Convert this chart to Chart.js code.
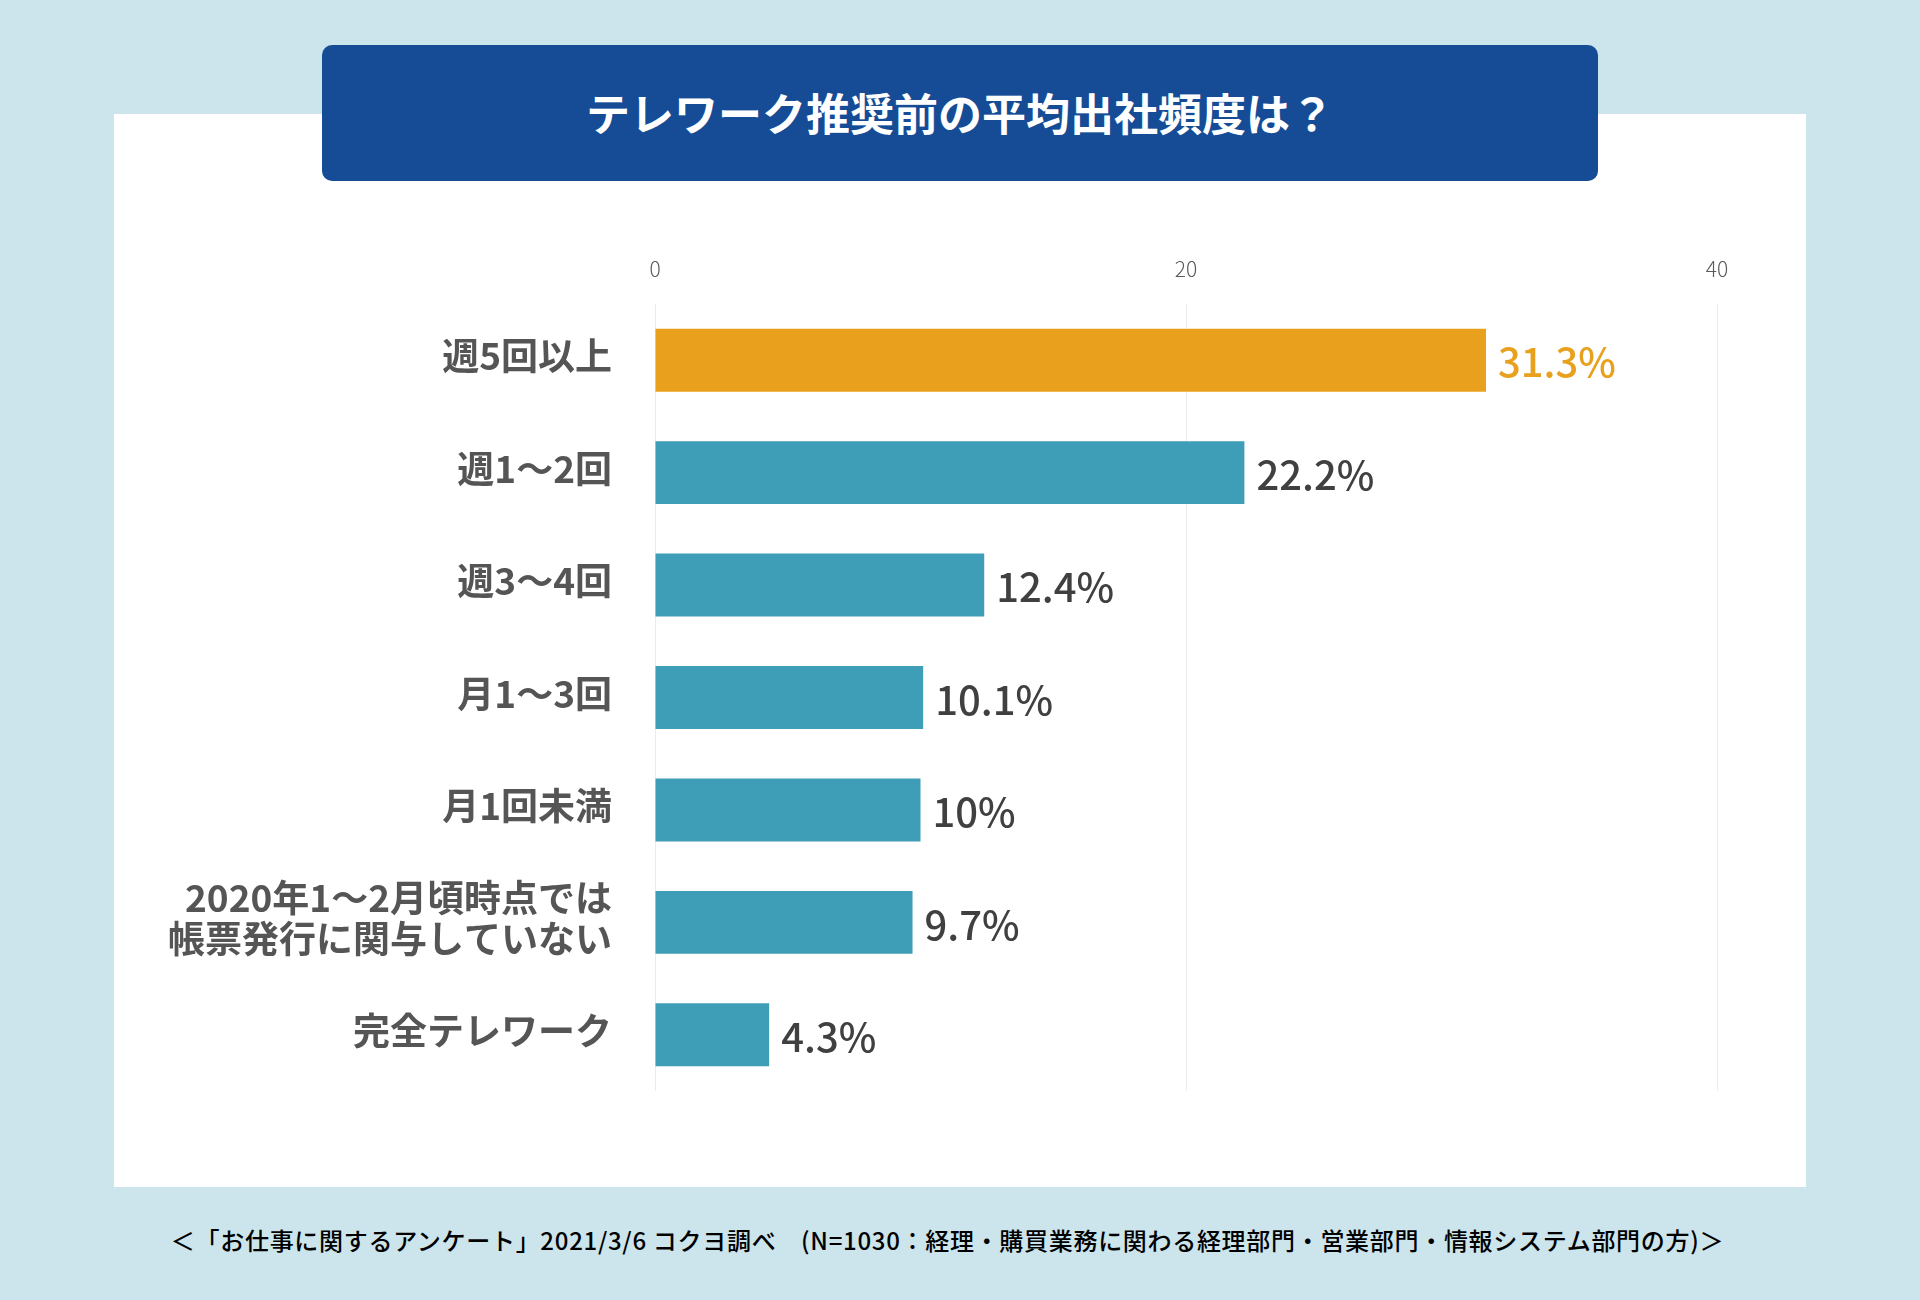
<!DOCTYPE html>
<html lang="ja">
  <head>
    <meta charset="UTF-8" />
    <title>テレワーク推奨前の平均出社頻度は？</title>
    <script src="https://cdn.jsdelivr.net/npm/chart.js"></script>
    <style>
      body {
        margin: 0;
        width: 1920px;
        height: 1300px;
        background: #cce4eb;
        position: relative;
        overflow: hidden;
        font-family: "Noto Sans CJK JP", sans-serif;
      }
      .panel {
        position: absolute;
        left: 114px;
        top: 114px;
        width: 1692px;
        height: 1073px;
        background: #ffffff;
      }
      .title {
        position: absolute;
        left: 322px;
        top: 45px;
        width: 1276px;
        height: 136px;
        background: #164c96;
        border-radius: 10px;
        color: #ffffff;
        font-weight: 700;
        font-size: 44px;
        line-height: 134px;
        text-align: center;
        z-index: 2;
      }
      .footer {
        position: absolute;
        left: 155px;
        top: 1222px;
        width: 1585px;
        font-size: 24px;
        font-weight: 500;
        letter-spacing: 0.7px;
        color: #000;
        white-space: nowrap;
        text-align: center;
      }
    </style>
  </head>
  <body>
    <div class="panel">
      <canvas id="freqChart"></canvas>
    </div>
    <div class="title">テレワーク推奨前の平均出社頻度は？</div>
    <div class="footer">＜「お仕事に関するアンケート」2021/3/6 コクヨ調べ　(N=1030：経理・購買業務に関わる経理部門・営業部門・情報システム部門の方)＞</div>

    <script>
      // データ
      const categories = [
        "週5回以上",
        "週1～2回",
        "週3～4回",
        "月1～3回",
        "月1回未満",
        ["2020年1～2月頃時点では", "帳票発行に関与していない"],
        "完全テレワーク",
      ];
      const percentages = [31.3, 22.2, 12.4, 10.1, 10, 9.7, 4.3];
      const xTicks = [0, 20, 40];

      const barColors = percentages.map((v, i) => (i === 0 ? "#e8a01d" : "#3e9db7"));
      const labelColors = percentages.map((v, i) => (i === 0 ? "#e8a01d" : "#404040"));

      // バーの右に数値を描く
      const valueLabels = {
        id: "valueLabels",
        afterDatasetsDraw(chart) {
          const ctx = chart.ctx;
          const meta = chart.getDatasetMeta(0);
          ctx.save();
          ctx.font = '500 40px "Noto Sans CJK JP", sans-serif';
          ctx.textAlign = "left";
          ctx.textBaseline = "middle";
          meta.data.forEach((bar, i) => {
            ctx.fillStyle = labelColors[i];
            ctx.fillText(percentages[i] + "%", bar.x + 12, bar.y + 2);
          });
          ctx.restore();
        },
      };

      const box = document.querySelector(".panel");
      const canvas = document.getElementById("freqChart");
      canvas.width = box.clientWidth;
      canvas.height = box.clientHeight;

      new Chart(canvas, {
        type: "bar",
        data: {
          labels: categories,
          datasets: [
            {
              data: percentages,
              backgroundColor: barColors,
              barPercentage: 0.56,
              categoryPercentage: 1,
            },
          ],
        },
        options: {
          indexAxis: "y",
          responsive: false,
          animation: false,
          layout: {
            padding: { left: 0, right: 89, top: 0, bottom: 96 },
          },
          plugins: {
            legend: { display: false },
            tooltip: { enabled: false },
          },
          scales: {
            x: {
              position: "top",
              min: xTicks[0],
              max: xTicks[xTicks.length - 1],
              afterBuildTicks(scale) {
                scale.ticks = xTicks.map((v) => ({ value: v }));
              },
              afterFit(scale) {
                scale.height = 190;
              },
              grid: {
                color: "#ebebeb",
                lineWidth: 1,
                drawTicks: false,
              },
              border: { display: false },
              ticks: {
                padding: 22,
                color: "#5a5a5a",
                font: { family: '"Noto Sans CJK JP"', size: 21, weight: 300 },
              },
            },
            y: {
              afterFit(scale) {
                scale.width = 541;
              },
              grid: { display: false, drawTicks: false },
              border: { display: false },
              ticks: {
                padding: 43,
                labelOffset: -4,
                color: "#555555",
                font: {
                  family: '"Noto Sans CJK JP"',
                  size: 37,
                  weight: 700,
                  lineHeight: 1.12,
                },
              },
            },
          },
        },
        plugins: [valueLabels],
      });
    </script>
  </body>
</html>
